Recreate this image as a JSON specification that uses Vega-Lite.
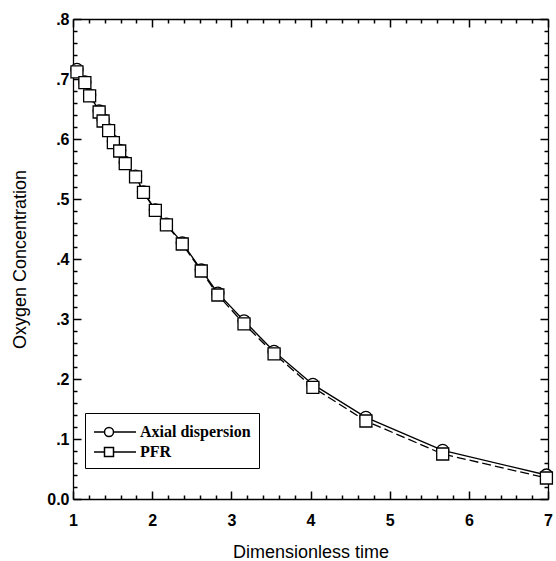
{
  "$schema": "https://vega.github.io/schema/vega-lite/v6.json",
  "width": 475,
  "height": 480,
  "autosize": {"type": "none"},
  "padding": {"left": 73, "top": 19, "right": 8, "bottom": 62},
  "background": "white",
  "config": {
    "view": {"stroke": null},
    "axis": {
      "domainColor": "black",
      "domainWidth": 1.3,
      "labelColor": "black",
      "labelFont": "Liberation Sans",
      "labelFontSize": 16,
      "labelFontWeight": "bold",
      "labelOverlap": false,
      "labelFlush": false,
      "titleColor": "black",
      "titleFont": "Liberation Sans",
      "titleFontSize": 18,
      "titleFontWeight": "normal"
    }
  },
  "data": {
    "values": [
      {"t": 1.05, "c": 0.716, "series": "Axial dispersion"},
      {"t": 1.15, "c": 0.695, "series": "Axial dispersion"},
      {"t": 1.21, "c": 0.673, "series": "Axial dispersion"},
      {"t": 1.33, "c": 0.647, "series": "Axial dispersion"},
      {"t": 1.38, "c": 0.632, "series": "Axial dispersion"},
      {"t": 1.45, "c": 0.615, "series": "Axial dispersion"},
      {"t": 1.51, "c": 0.596, "series": "Axial dispersion"},
      {"t": 1.59, "c": 0.581, "series": "Axial dispersion"},
      {"t": 1.66, "c": 0.561, "series": "Axial dispersion"},
      {"t": 1.79, "c": 0.538, "series": "Axial dispersion"},
      {"t": 1.89, "c": 0.512, "series": "Axial dispersion"},
      {"t": 2.04, "c": 0.482, "series": "Axial dispersion"},
      {"t": 2.18, "c": 0.458, "series": "Axial dispersion"},
      {"t": 2.38, "c": 0.427, "series": "Axial dispersion"},
      {"t": 2.62, "c": 0.382, "series": "Axial dispersion"},
      {"t": 2.83, "c": 0.343, "series": "Axial dispersion"},
      {"t": 3.16, "c": 0.297, "series": "Axial dispersion"},
      {"t": 3.54, "c": 0.246, "series": "Axial dispersion"},
      {"t": 4.03, "c": 0.191, "series": "Axial dispersion"},
      {"t": 4.70, "c": 0.136, "series": "Axial dispersion"},
      {"t": 5.67, "c": 0.081, "series": "Axial dispersion"},
      {"t": 6.98, "c": 0.040, "series": "Axial dispersion"},
      {"t": 1.05, "c": 0.712, "series": "PFR"},
      {"t": 1.15, "c": 0.694, "series": "PFR"},
      {"t": 1.21, "c": 0.672, "series": "PFR"},
      {"t": 1.33, "c": 0.645, "series": "PFR"},
      {"t": 1.38, "c": 0.630, "series": "PFR"},
      {"t": 1.45, "c": 0.614, "series": "PFR"},
      {"t": 1.51, "c": 0.594, "series": "PFR"},
      {"t": 1.59, "c": 0.580, "series": "PFR"},
      {"t": 1.66, "c": 0.559, "series": "PFR"},
      {"t": 1.79, "c": 0.537, "series": "PFR"},
      {"t": 1.89, "c": 0.511, "series": "PFR"},
      {"t": 2.04, "c": 0.481, "series": "PFR"},
      {"t": 2.18, "c": 0.457, "series": "PFR"},
      {"t": 2.38, "c": 0.425, "series": "PFR"},
      {"t": 2.62, "c": 0.380, "series": "PFR"},
      {"t": 2.83, "c": 0.340, "series": "PFR"},
      {"t": 3.16, "c": 0.292, "series": "PFR"},
      {"t": 3.54, "c": 0.242, "series": "PFR"},
      {"t": 4.03, "c": 0.186, "series": "PFR"},
      {"t": 4.70, "c": 0.130, "series": "PFR"},
      {"t": 5.67, "c": 0.075, "series": "PFR"},
      {"t": 6.98, "c": 0.035, "series": "PFR"}
    ]
  },
  "layer": [
    {
      "transform": [{"filter": "datum.series === 'Axial dispersion'"}],
      "mark": {"type": "line", "color": "black", "strokeWidth": 1.3},
      "encoding": {
        "x": {
          "field": "t", "type": "quantitative",
          "scale": {"domain": [1, 7], "nice": false, "zero": false},
          "axis": {
            "orient": "bottom",
            "values": [1, 1.2, 1.4, 1.6, 1.8, 2, 2.2, 2.4, 2.6, 2.8, 3, 3.2, 3.4, 3.6, 3.8, 4, 4.2, 4.4, 4.6, 4.8, 5, 5.2, 5.4, 5.6, 5.8, 6, 6.2, 6.4, 6.6, 6.8, 7],
            "ticks": true, "grid": false, "tickColor": "black", "tickWidth": 1.5, "tickOpacity": 1,
            "tickSize": {"condition": {"test": "abs(datum.value - round(datum.value)) < 1e-6", "value": -8}, "value": -4},
            "labelExpr": "abs(datum.value - round(datum.value)) < 1e-6 ? format(datum.value, 'd') : ''",
            "labelPadding": 21,
            "title": "Dimensionless time",
            "titlePadding": 11
          }
        },
        "y": {
          "field": "c", "type": "quantitative",
          "scale": {"domain": [0, 0.8], "nice": false, "zero": true},
          "axis": {
            "orient": "left",
            "values": [0, 0.02, 0.04, 0.06, 0.08, 0.1, 0.12, 0.14, 0.16, 0.18, 0.2, 0.22, 0.24, 0.26, 0.28, 0.3, 0.32, 0.34, 0.36, 0.38, 0.4, 0.42, 0.44, 0.46, 0.48, 0.5, 0.52, 0.54, 0.56, 0.58, 0.6, 0.62, 0.64, 0.66, 0.68, 0.7, 0.72, 0.74, 0.76, 0.78, 0.8],
            "ticks": true, "grid": false, "tickColor": "black", "tickWidth": 1.5, "tickOpacity": 1,
            "tickSize": {"condition": {"test": "abs(datum.value * 10 - round(datum.value * 10)) < 1e-6", "value": -8}, "value": -4},
            "labelExpr": "abs(datum.value * 10 - round(datum.value * 10)) < 1e-6 ? (datum.value < 1e-9 ? '0.0' : '.' + format(round(datum.value * 10), 'd')) : ''",
            "labelPadding": 12,
            "title": "Oxygen Concentration",
            "titlePadding": 17
          }
        }
      }
    },
    {
      "transform": [{"filter": "datum.series === 'PFR'"}],
      "mark": {"type": "line", "color": "black", "strokeWidth": 1.3, "strokeDash": [9, 4]},
      "encoding": {
        "x": {"field": "t", "type": "quantitative", "axis": null},
        "y": {"field": "c", "type": "quantitative", "axis": null}
      }
    },
    {
      "mark": {"type": "point", "filled": true, "fill": "white", "stroke": "black", "strokeWidth": 1.3, "size": 144, "opacity": 1},
      "encoding": {
        "x": {
          "field": "t", "type": "quantitative",
          "axis": {
            "orient": "top",
            "values": [1, 1.2, 1.4, 1.6, 1.8, 2, 2.2, 2.4, 2.6, 2.8, 3, 3.2, 3.4, 3.6, 3.8, 4, 4.2, 4.4, 4.6, 4.8, 5, 5.2, 5.4, 5.6, 5.8, 6, 6.2, 6.4, 6.6, 6.8, 7],
            "ticks": true, "grid": false, "tickColor": "black", "tickWidth": 1.5, "tickOpacity": 1,
            "tickSize": {"condition": {"test": "abs(datum.value - round(datum.value)) < 1e-6", "value": -8}, "value": -4},
            "labels": false,
            "title": null
          }
        },
        "y": {
          "field": "c", "type": "quantitative",
          "axis": {
            "orient": "right",
            "values": [0, 0.02, 0.04, 0.06, 0.08, 0.1, 0.12, 0.14, 0.16, 0.18, 0.2, 0.22, 0.24, 0.26, 0.28, 0.3, 0.32, 0.34, 0.36, 0.38, 0.4, 0.42, 0.44, 0.46, 0.48, 0.5, 0.52, 0.54, 0.56, 0.58, 0.6, 0.62, 0.64, 0.66, 0.68, 0.7, 0.72, 0.74, 0.76, 0.78, 0.8],
            "ticks": true, "grid": false, "tickColor": "black", "tickWidth": 1.5, "tickOpacity": 1,
            "tickSize": {"condition": {"test": "abs(datum.value * 10 - round(datum.value * 10)) < 1e-6", "value": -8}, "value": -4},
            "labels": false,
            "title": null
          }
        },
        "shape": {
          "field": "series", "type": "nominal",
          "scale": {"domain": ["Axial dispersion", "PFR"], "range": ["circle", "square"]},
          "legend": null
        }
      }
    },
    {
      "mark": {"type": "point", "filled": true, "fill": "white", "stroke": "black", "strokeWidth": 1.3, "opacity": 0},
      "encoding": {
        "x": {"field": "t", "type": "quantitative", "axis": null},
        "y": {"field": "c", "type": "quantitative", "axis": null},
        "shape": {
          "field": "series", "type": "nominal",
          "scale": {
            "domain": ["Axial dispersion", "PFR"],
            "range": [
              "M-1,0H0.05M0.95,0H3.2M0.05,0A0.45,0.45,0,1,1,0.95,0A0.45,0.45,0,1,1,0.05,0Z",
              "M-1,0H0.05M0.95,0H3.2M0.05,-0.45H0.95V0.45H0.05Z"
            ]
          },
          "legend": {
            "title": null,
            "orient": "none",
            "legendX": 12,
            "legendY": 394,
            "strokeColor": "black",
            "fillColor": "white",
            "padding": 8,
            "cornerRadius": 0,
            "labelFont": "Liberation Serif",
            "labelFontSize": 16,
            "labelFontWeight": "bold",
            "labelColor": "black",
            "labelOffset": 25,
            "rowPadding": 1,
            "symbolSize": 400,
            "encode": {
              "symbols": {
                "update": {
                  "fill": {"value": "white"},
                  "stroke": {"value": "black"},
                  "strokeWidth": {"value": 1.3},
                  "opacity": {"value": 1},
                  "strokeOpacity": {"value": 1},
                  "fillOpacity": {"value": 1}
                }
              }
            }
          }
        }
      }
    }
  ],
  "resolve": {"axis": {"x": "independent", "y": "independent"}, "scale": {"shape": "independent"}}
}
